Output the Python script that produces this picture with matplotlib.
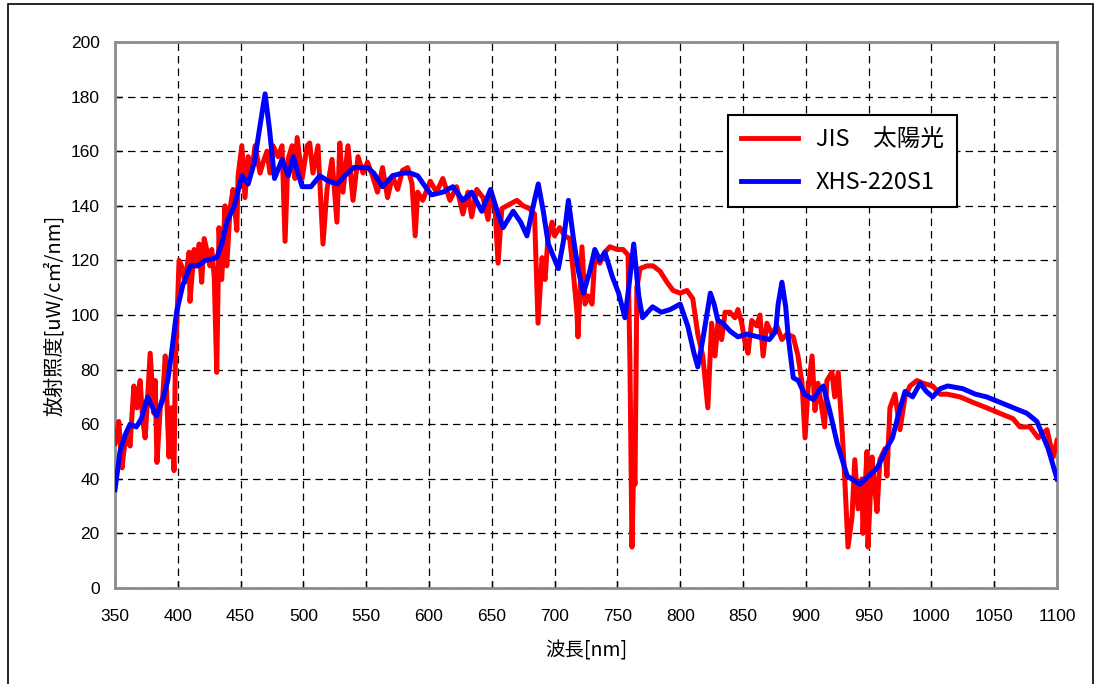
import numpy as np
import matplotlib
matplotlib.use("Agg")
import matplotlib.pyplot as plt
from matplotlib.patches import Rectangle

# JIS 太陽光 (reference spectrum)
red_nm = [350, 351, 353, 355.6, 357, 359.5, 362, 365, 367.5, 370, 372, 374, 376, 378, 381, 382,
          383.4, 386, 388, 390, 393, 394.6, 397, 398, 399.4, 401, 403, 405.7, 409, 409.7, 413, 415,
          417, 419, 421, 423, 425.6, 427, 429, 431, 432.8, 435, 437.6, 439, 441.6, 444, 447, 448,
          451, 453.5, 456, 459, 461.5, 465.5, 468, 471, 473.4, 475.8, 479.8, 483, 485.4, 487.7,
          491, 493.3, 495, 499, 503, 505, 507.6, 511.6, 515.6, 518.8, 522.8, 526.7, 529, 531.5,
          535.5, 539.5, 543.5, 547.5, 551, 555, 559, 563, 567, 571, 575, 579, 583, 586.5, 589,
          591, 595, 601, 606, 611, 616.7, 622, 627, 631, 634, 638, 643, 647, 648.6, 652.5, 655,
          658, 662, 666, 670, 675, 680, 684, 686.8, 690, 692.4, 694.7, 698, 700, 704, 708, 712,
          714.6, 717.8, 718.6, 721.8, 724.2, 726.6, 729.8, 732, 736, 740, 744, 749.7, 754.5,
          758.5, 760, 761.6, 763, 764, 765.5, 768, 773.6, 778.4, 784, 789.5, 794.3, 800, 805.4,
          810, 814, 818, 822, 825, 827.7, 830, 833, 835.7, 839.6, 843.6, 846, 849, 851.6, 854,
          857, 861, 863.5, 866, 869, 873, 877, 881, 885, 890, 893.8, 897, 899.4, 901.8, 905,
          907.3, 909.7, 913.7, 915, 916.8, 920.8, 923, 925.8, 929, 931, 933.6, 936.8, 939, 941.6,
          944.7, 945.5, 948.7, 949.5, 952.7, 955, 956.7, 959, 963, 964.6, 967, 971, 975, 979,
          983, 988.5, 993.3, 1001, 1007, 1012.4, 1022.8, 1033, 1044, 1054.6, 1065, 1070.5,
          1078.5, 1085, 1092, 1097, 1100]
red_val = [53, 55, 61, 44, 50, 57, 52, 74, 66, 76, 62, 55, 70, 86, 64, 76,
           46, 66, 70, 85, 48, 66, 43, 81, 99, 120, 118, 112, 123, 105, 124, 118,
           126, 112, 128, 124, 118, 124, 114, 79, 132, 113, 140, 118, 139, 146, 131, 151,
           162, 143, 158, 153, 162, 152, 156, 160, 152, 162, 158, 162, 127, 157,
           162, 150, 165, 150, 162, 163, 152, 162, 126, 146, 157, 134, 163, 145,
           162, 142, 158, 152, 156, 151, 145, 154, 143, 151, 146, 153, 154, 148, 129,
           145, 142, 149, 145, 150, 142, 147, 137, 145, 136, 146, 143, 135, 143, 140, 119,
           139, 140, 141, 142, 140, 139, 137, 97, 121, 113, 128, 134, 129, 132, 129, 128,
           117, 101, 92, 125, 104, 107, 104, 121, 119, 123, 125, 124, 124,
           122, 82, 15, 45, 38, 110, 117, 118, 118, 116, 112, 109, 108, 109,
           106, 93, 85, 66, 97, 85, 97, 91, 101, 101, 99, 102, 97, 90, 86,
           98, 96, 100, 85, 97, 93, 96, 91, 93, 92, 85, 75, 55, 73, 85,
           65, 75, 63, 59, 76, 79, 70, 79, 57, 40, 15, 26, 47, 29,
           40, 20, 50, 15, 48, 36, 28, 47, 51, 41, 66, 71, 58, 70,
           74, 76, 75, 74, 71, 71, 70, 68, 66, 64, 62, 59,
           59, 55, 58, 48, 54]

# XHS-220S1 (simulator output)
blue_nm = [350, 354, 358, 362, 367, 371, 376, 380, 383, 388, 392, 395, 399, 404, 410, 416, 422,
           431, 435, 439, 445, 451, 456, 461, 465, 469.5, 473, 477, 483, 488, 492, 495, 499, 506,
           513, 520, 527, 533, 540, 551, 556, 563, 571, 579, 585, 591, 597, 602, 611, 619, 627,
           634, 642, 649, 655, 659, 667, 673, 678, 683, 687, 691, 695, 703, 707, 711, 715, 719,
           723, 728, 732, 736, 740, 746, 751, 756, 759, 763, 767, 770, 778, 785, 792, 800, 806,
           811, 814, 818, 824, 827, 830, 834, 840, 846, 853, 862, 871, 876, 878, 881, 884, 886,
           890, 894, 899, 906, 910, 914, 919, 925, 933, 943, 950, 957, 963, 969, 974, 979, 985,
           991, 996, 1001, 1007, 1013, 1025, 1035, 1044, 1060, 1076, 1084, 1093, 1100]
blue_val = [36, 50, 56, 60, 59, 62, 70, 66, 63, 69, 76, 86, 101, 111, 118, 118, 120,
            121, 126, 134, 140, 151, 148, 156, 168, 181, 168, 150, 157, 151, 158, 153, 147, 147,
            151, 149, 148, 151, 154, 154, 152, 147, 151, 152, 152, 151, 147, 144, 145, 147, 142,
            145, 138, 146, 137, 132, 138, 134, 129, 140, 148, 138, 126, 117, 127, 142, 128, 116,
            108, 116, 124, 120, 123, 114, 108, 99, 110, 126, 107, 99, 103, 101, 102, 104, 96,
            86, 81, 91, 108, 104, 98, 97, 94, 92, 93, 92, 91, 94, 104, 112, 103, 92,
            77, 76, 71, 69, 72, 74, 65, 53, 41, 38, 41, 44, 50, 55, 64, 72, 70,
            75, 72, 70, 73, 74, 73, 71, 70, 67, 64, 61, 51, 40]

x_ticks = list(range(350, 1101, 50))
y_ticks = list(range(0, 201, 20))

plt.rcParams['font.family'] = ['Liberation Sans', 'Noto Sans CJK JP', 'DejaVu Sans']
jp = ['Noto Sans CJK JP', 'DejaVu Sans']

fig = plt.figure(figsize=(10.96, 6.84), dpi=100)
# outer chart-area frame (bottom edge runs off the image)
fig.patches.append(Rectangle((8 / 1096, -0.05), (1093 - 8) / 1096, 1.05 - 4 / 684,
                             transform=fig.transFigure, fill=False, edgecolor='black',
                             linewidth=1.2))

ax = fig.add_axes([115 / 1096, 96 / 684, 942 / 1096, 546 / 684])
ax.plot(red_nm, red_val, color='#ff0000', linewidth=3.6, solid_joinstyle='round', zorder=3)
ax.plot(blue_nm, blue_val, color='#0000ff', linewidth=3.6, solid_joinstyle='round', zorder=4)

ax.set_xlim(350, 1100)
ax.set_ylim(0, 200)
ax.set_xticks(x_ticks)
ax.set_yticks(y_ticks)
ax.tick_params(direction='in', length=5, width=1, labelsize=12.5, colors='black')
ax.tick_params(axis='x', pad=15)
ax.tick_params(axis='y', pad=11)
ax.grid(True, color='black', linestyle=(0, (6, 4)), linewidth=0.9)
for s in ax.spines.values():
    s.set_color('#8c8c8c')
    s.set_linewidth(2)

ax.set_xlabel('波長[nm]', fontsize=14, family=jp, labelpad=12)
ax.set_ylabel('放射照度[uW/c㎡/nm]', fontsize=14.5, family=jp, labelpad=4)

leg = ax.legend(['JIS　太陽光', 'XHS-220S1'], loc='upper left',
                bbox_to_anchor=(0.651, 0.866), borderaxespad=0, fancybox=False,
                framealpha=1, edgecolor='black', handlelength=2.4, labelspacing=0.85,
                borderpad=0.55, handletextpad=0.75, prop={'family': jp, 'size': 17})
leg.get_frame().set_linewidth(1.5)
for h in leg.get_lines():
    h.set_linewidth(3.5)

fig.savefig('out.png', dpi=100)
